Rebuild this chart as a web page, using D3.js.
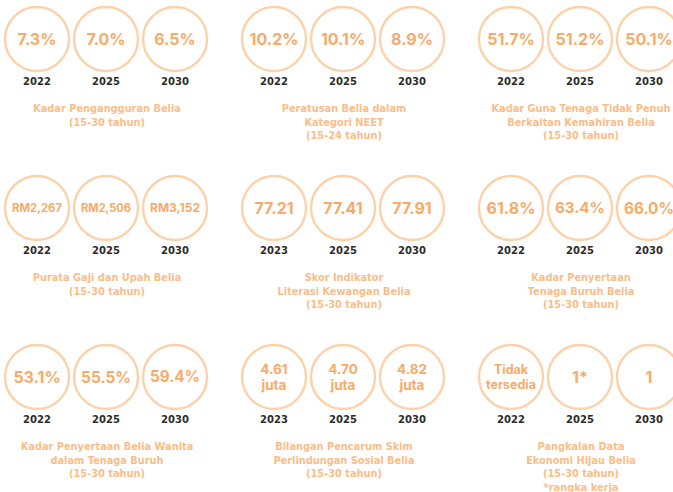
<!DOCTYPE html>
<html>
<head>
<meta charset="utf-8">
<script src="https://cdn.jsdelivr.net/npm/d3@7"></script>
<style>
  body { margin: 0; background: #fff; }
  svg { display: block; }
</style>
</head>
<body>
<svg id="chart"></svg>
<script>
// Indicator titles (one entry per panel, lines split by "\n")
const titles = [
  "Kadar Pengangguran Belia\n(15-30 tahun)",
  "Peratusan Belia dalam\nKategori NEET\n(15-24 tahun)",
  "Kadar Guna Tenaga Tidak Penuh\nBerkaitan Kemahiran Belia\n(15-30 tahun)",
  "Purata Gaji dan Upah Belia\n(15-30 tahun)",
  "Skor Indikator\nLiterasi Kewangan Belia\n(15-30 tahun)",
  "Kadar Penyertaan\nTenaga Buruh Belia\n(15-30 tahun)",
  "Kadar Penyertaan Belia Wanita\ndalam Tenaga Buruh\n(15-30 tahun)",
  "Bilangan Pencarum Skim\nPerlindungan Sosial Belia\n(15-30 tahun)",
  "Pangkalan Data\nEkonomi Hijau Belia\n(15-30 tahun)\n*rangka kerja"
];

// Years shown under each circle
const years = [
  ["2022", "2025", "2030"],
  ["2022", "2025", "2030"],
  ["2022", "2025", "2030"],
  ["2022", "2025", "2030"],
  ["2023", "2025", "2030"],
  ["2022", "2025", "2030"],
  ["2022", "2025", "2030"],
  ["2023", "2025", "2030"],
  ["2022", "2025", "2030"]
];

// Values inside the circles
const values = [
  ["7.3%", "7.0%", "6.5%"],
  ["10.2%", "10.1%", "8.9%"],
  ["51.7%", "51.2%", "50.1%"],
  ["RM2,267", "RM2,506", "RM3,152"],
  ["77.21", "77.41", "77.91"],
  ["61.8%", "63.4%", "66.0%"],
  ["53.1%", "55.5%", "59.4%"],
  ["4.61\njuta", "4.70\njuta", "4.82\njuta"],
  ["Tidak\ntersedia", "1*", "1"]
];

const width = 673, height = 492;
const r = 32;
const peach = "#fcd2aa";
const valueColor = "#f7ab6a";
const titleColor = "#fbbd88";

const svg = d3.select("#chart")
  .attr("width", width)
  .attr("height", height);

// panel grid positions
const colX = d3.scalePoint().domain([0, 1, 2]).range([37, 511]);
const rowY = d3.scalePoint().domain([0, 1, 2]).range([39, 377]);
// circle offsets inside a panel
const circleX = d3.scalePoint().domain([0, 1, 2]).range([0, 138]);

const panels = titles.map((t, i) => ({
  title: t,
  years: years[i],
  values: values[i],
  col: i % 3,
  row: Math.floor(i / 3)
}));

const panel = svg.selectAll(".panel")
  .data(panels)
  .enter().append("g")
  .attr("class", "panel")
  .attr("transform", d => "translate(" + colX(d.col) + "," + rowY(d.row) + ")");

const item = panel.selectAll(".item")
  .data(d => d.values.map((v, j) => ({ value: v, year: d.years[j], j })))
  .enter().append("g")
  .attr("class", "item")
  .attr("transform", d => "translate(" + circleX(d.j) + ",0)");

item.append("circle")
  .attr("r", r)
  .attr("fill", "none")
  .attr("stroke", peach)
  .attr("stroke-width", 2.4);

// value text, shrunk to fit inside the circle
item.each(function(d) {
  const g = d3.select(this);
  const lines = d.value.split("\n");
  let size = lines.length > 1 ? 13.5 : 16;
  const t = g.append("text")
    .attr("text-anchor", "middle")
    .attr("fill", valueColor)
    .attr("font-family", "Inter, 'Open Sans', sans-serif")
    .attr("font-weight", 700)
    .attr("font-size", size);
  lines.forEach((l, k) => {
    t.append("tspan")
      .attr("x", 0)
      .attr("y", (k - (lines.length - 1) / 2) * size * 1.18 + size * 0.36)
      .text(l);
  });
  const maxW = 50;
  const w = d3.max(t.selectAll("tspan").nodes(), n => n.getComputedTextLength());
  if (w > maxW) {
    size = size * maxW / w;
    t.attr("font-size", size);
    t.selectAll("tspan")
      .attr("y", (l, k) => (k - (lines.length - 1) / 2) * size * 1.2 + size * 0.36);
  }
});

item.append("text")
  .attr("y", 46)
  .attr("text-anchor", "middle")
  .attr("fill", "#2b2b2b")
  .attr("font-family", "'DejaVu Sans', sans-serif")
  .attr("font-weight", 700)
  .attr("font-size", 10)
  .text(d => d.year);

// titles centred under the middle circle
panel.append("text")
  .attr("text-anchor", "middle")
  .attr("fill", titleColor)
  .attr("font-family", "'DejaVu Sans', sans-serif")
  .attr("font-weight", 700)
  .attr("font-size", 9.8)
  .selectAll("tspan")
  .data(d => d.title.split("\n"))
  .enter().append("tspan")
  .attr("x", circleX(1) + 1)
  .attr("y", (l, k) => 73 + k * 13.6)
  .text(l => l);
</script>
</body>
</html>
